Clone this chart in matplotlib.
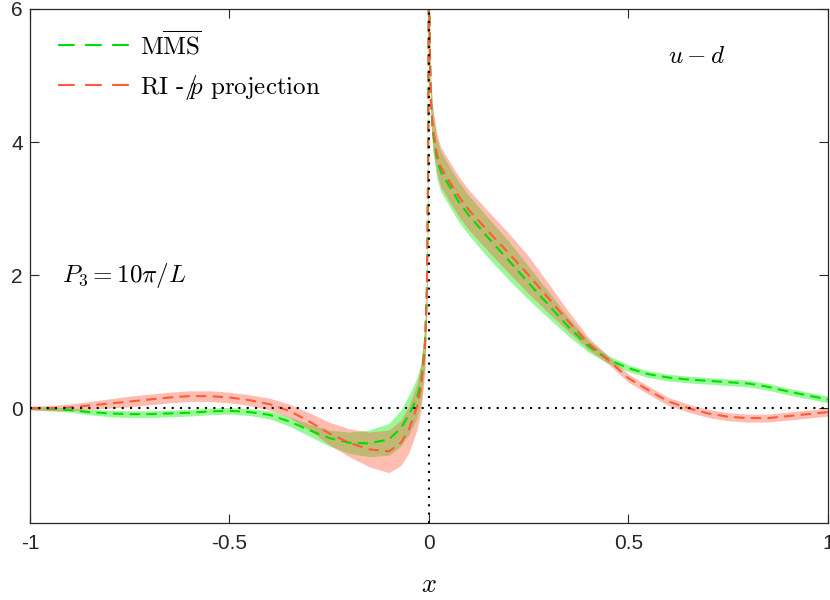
import matplotlib
matplotlib.use("Agg")
import matplotlib.pyplot as plt
import numpy as np

plt.rcParams['mathtext.fontset'] = 'cm'
plt.rcParams['font.family'] = ['Liberation Sans', 'DejaVu Sans']

# x grid, dense near the cusp at x = 0
x = [-1.0, -0.95, -0.9, -0.85, -0.8, -0.75, -0.7, -0.65, -0.6, -0.55, -0.5,
     -0.45, -0.4, -0.35, -0.3, -0.25, -0.2, -0.15, -0.1, -0.07, -0.05, -0.03,
     -0.02, -0.01, -0.005, -0.002, 0.0,
     0.002, 0.005, 0.01, 0.02, 0.03, 0.05, 0.075, 0.1, 0.15, 0.2, 0.25, 0.3,
     0.35, 0.4, 0.45, 0.5, 0.55, 0.6, 0.65, 0.7, 0.75, 0.8, 0.85, 0.9, 0.95, 1.0]

# MSbar
msbar = [0.0, -0.01, -0.03, -0.06, -0.08, -0.09, -0.09, -0.08, -0.07, -0.05, -0.04,
         -0.06, -0.1, -0.2, -0.33, -0.45, -0.52, -0.53, -0.47, -0.3, -0.1, 0.15,
         0.38, 0.95, 1.8, 3.6, 7.0,
         5.5, 4.6, 4.15, 3.75, 3.55, 3.35, 3.1, 2.9, 2.55, 2.22, 1.88, 1.55,
         1.22, 0.93, 0.73, 0.6, 0.51, 0.46, 0.43, 0.41, 0.39, 0.37, 0.32, 0.25, 0.19, 0.13]
msbar_err = [0.02, 0.03, 0.03, 0.04, 0.05, 0.05, 0.05, 0.05, 0.05, 0.05, 0.05,
             0.05, 0.06, 0.07, 0.09, 0.12, 0.16, 0.2, 0.24, 0.27, 0.3, 0.3,
             0.3, 0.3, 0.3, 0.3, 0.3,
             0.3, 0.3, 0.3, 0.3, 0.3, 0.3, 0.3, 0.3, 0.3, 0.29, 0.25, 0.2,
             0.14, 0.09, 0.06, 0.05, 0.05, 0.05, 0.05, 0.05, 0.05, 0.05, 0.05, 0.05, 0.05, 0.05]

# RI-pslash projection
ri = [0.0, 0.0, 0.01, 0.04, 0.07, 0.1, 0.13, 0.16, 0.18, 0.18, 0.16,
      0.12, 0.06, -0.04, -0.2, -0.38, -0.52, -0.62, -0.65, -0.52, -0.32, 0.02,
      0.3, 0.9, 1.8, 3.5, 7.0,
      5.5, 4.6, 4.2, 3.82, 3.62, 3.42, 3.18, 2.98, 2.65, 2.33, 2.0, 1.65,
      1.3, 0.97, 0.72, 0.45, 0.27, 0.1, 0.0, -0.08, -0.13, -0.15, -0.15, -0.12, -0.09, -0.06]
ri_err = [0.03, 0.04, 0.05, 0.06, 0.07, 0.08, 0.08, 0.08, 0.08, 0.08, 0.08,
          0.08, 0.09, 0.1, 0.13, 0.17, 0.21, 0.26, 0.32, 0.34, 0.35, 0.35,
          0.35, 0.35, 0.35, 0.35, 0.35,
          0.3, 0.3, 0.3, 0.3, 0.3, 0.3, 0.3, 0.3, 0.3, 0.3, 0.28, 0.22,
          0.15, 0.09, 0.06, 0.06, 0.06, 0.06, 0.06, 0.06, 0.06, 0.06, 0.06, 0.06, 0.06, 0.06]

x = np.array(x)
msbar, msbar_err = np.array(msbar), np.array(msbar_err)
ri, ri_err = np.array(ri), np.array(ri_err)

green = '#00dd00'
red = '#ff5a3c'
dash = (0, (5, 3))

fig = plt.figure(figsize=(8.3, 6.0), dpi=100)
ax = fig.add_axes([0.036, 0.128, 0.9615, 0.857])

ax.fill_between(x, msbar - msbar_err, msbar + msbar_err, color='#00f000',
                alpha=0.4, lw=0)
ax.plot(x, msbar, color=green, lw=1.5, ls=dash, label=r'M$\overline{\mathrm{MS}}$')
ax.fill_between(x, ri - ri_err, ri + ri_err, color=red, alpha=0.4, lw=0)
ax.plot(x, ri, color=red, lw=1.5, ls=dash,
        label=r'RI -$/\!\!p$ projection')

ax.axhline(0, color='black', lw=1.5, ls=(0, (1, 3)), zorder=5)
ax.axvline(0, color='black', lw=1.5, ls=(0, (1, 3)), zorder=5)

ax.set_xlim(-1, 1)
ax.set_ylim(-1.73, 6)
ax.set_xticks([-1, -0.5, 0, 0.5, 1])
ax.set_xticklabels(['-1', '-0.5', '0', '0.5', '1'])
ax.set_yticks([0, 2, 4, 6])
ax.set_yticklabels(['0', '2', '4', '6'])
ax.tick_params(direction='in', length=6.5, width=0.8, colors='#262626',
               labelsize=15, top=True, right=True)
ax.tick_params(axis='x', pad=8)
ax.tick_params(axis='y', pad=5)
for s in ax.spines.values():
    s.set_color('#262626')
    s.set_linewidth(0.9)

ax.set_xlabel(r'$x$', fontsize=19, labelpad=14)

ax.text(-0.92, 2.0, r'$P_3 = 10\pi/L$', fontsize=18, va='center', ha='left')
ax.text(0.6, 5.3, r'$u - d$', fontsize=18, va='center', ha='left')

leg = ax.legend(loc='upper left', frameon=False, prop={'family': 'cmr10', 'size': 18},
                handlelength=3.2, handletextpad=0.1, borderaxespad=0.45,
                labelspacing=0.55, bbox_to_anchor=(0.008, 1.0))
for ln in leg.get_lines():
    ln.set_linestyle((0, (8, 5)))

fig.savefig('out.png', dpi=100)
